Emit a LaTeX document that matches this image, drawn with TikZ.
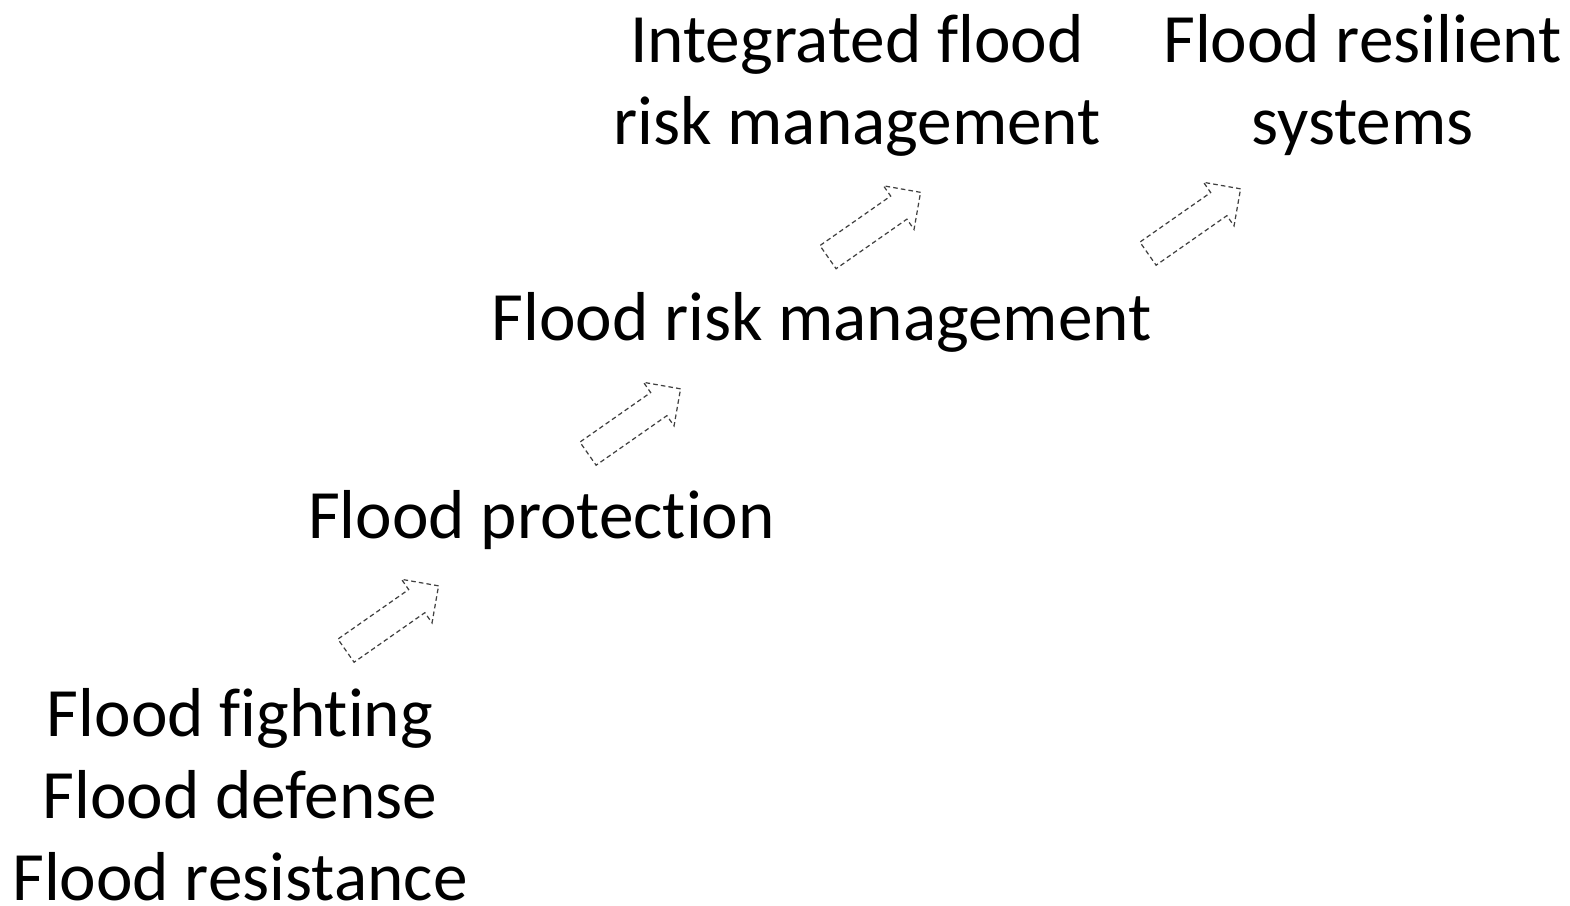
\documentclass[tikz,border=0pt]{standalone}
\usepackage{fontspec}
\setmainfont[Ligatures={NoCommon}]{Carlito}
\usepackage{tikz}
\usetikzlibrary{positioning, shapes.arrows}

\newcommand{\stagefont}{\fontsize{19.7}{23.2}\selectfont}

\begin{document}
\begin{tikzpicture}[
  stage/.style={align=center, inner sep=0pt, anchor=base, font=\stagefont},
  uparrow/.style={single arrow, draw=black!75, line width=0.35pt, dash pattern=on 1.3pt off 0.9pt,
    minimum height=1.13cm, minimum width=0.52cm, single arrow head extend=0.125cm,
    inner sep=0.135cm, anchor=tail, rotate=35}
]
\useasboundingbox (0,0) rectangle (15.70,9.05);

% Stages (base = last line)
\node[stage] (fight) at (2.40, 0.05) {Flood fighting\\Flood defense\\Flood resistance};
\node[stage] (protect) at (5.415, 3.67) {Flood protection};
\node[stage] (risk) at (8.215, 5.65) {Flood risk management};
\node[stage] (integr) at (8.57, 7.61) {Integrated flood\\risk management};
\node[stage] (resil) at (13.625, 7.61) {Flood resilient\\systems};

% Steps up
\node[uparrow] (up1) at (3.455, 2.54) {};
\node[uparrow] (up2) at (5.875, 4.51) {};
\node[uparrow] (up3) at (8.275, 6.475) {};
\node[uparrow] (up4) at (11.475, 6.51) {};

\end{tikzpicture}
\end{document}
